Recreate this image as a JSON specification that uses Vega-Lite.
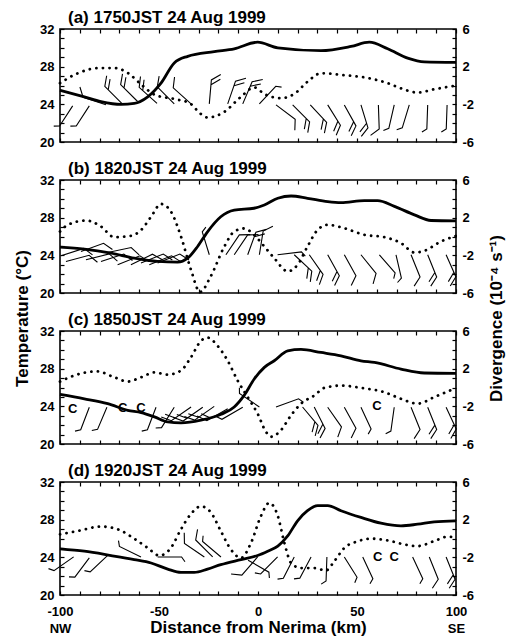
{
"$schema": "https://vega.github.io/schema/vega-lite/v6.json",
"autosize": {"type": "pad"},
"padding": {"left": 12, "top": 8, "right": 6, "bottom": 6},
"background": "white",
"datasets": {
"temp": [
{"p":"a","km":-100,"T":25.5},{"p":"a","km":-87.7,"T":24.8},{"p":"a","km":-79.3,"T":24.3},{"p":"a","km":-69.2,"T":24.0},{"p":"a","km":-62.5,"T":24.1},{"p":"a","km":-55.7,"T":24.8},{"p":"a","km":-49,"T":26.25},{"p":"a","km":-42.3,"T":28.4},{"p":"a","km":-35.5,"T":29.1},{"p":"a","km":-22.1,"T":29.6},{"p":"a","km":-12,"T":29.9},{"p":"a","km":-0.2,"T":30.6},{"p":"a","km":10,"T":30.0},{"p":"a","km":31.8,"T":29.7},{"p":"a","km":47,"T":30.15},{"p":"a","km":56.2,"T":30.6},{"p":"a","km":65.5,"T":29.9},{"p":"a","km":75.6,"T":28.9},{"p":"a","km":84,"T":28.5},{"p":"a","km":100,"T":28.45},
{"p":"b","km":-100,"T":24.87},{"p":"b","km":-87.7,"T":24.66},{"p":"b","km":-74.2,"T":24.23},{"p":"b","km":-62.5,"T":23.7},{"p":"b","km":-50.7,"T":23.35},{"p":"b","km":-40.6,"T":23.28},{"p":"b","km":-35.5,"T":23.7},{"p":"b","km":-30.5,"T":24.94},{"p":"b","km":-25.5,"T":26.5},{"p":"b","km":-18.8,"T":28.1},{"p":"b","km":-12,"T":28.8},{"p":"b","km":-2,"T":29.0},{"p":"b","km":3.2,"T":29.35},{"p":"b","km":10,"T":30.06},{"p":"b","km":16.7,"T":30.3},{"p":"b","km":25,"T":30.06},{"p":"b","km":35.2,"T":29.7},{"p":"b","km":41.9,"T":29.6},{"p":"b","km":53.7,"T":29.8},{"p":"b","km":60.4,"T":29.8},{"p":"b","km":68.9,"T":29.2},{"p":"b","km":79,"T":28.3},{"p":"b","km":87.4,"T":27.7},{"p":"b","km":100,"T":27.66},
{"p":"c","km":-100,"T":25.26},{"p":"c","km":-87.7,"T":24.8},{"p":"c","km":-75.9,"T":24.28},{"p":"c","km":-65.8,"T":23.58},{"p":"c","km":-59,"T":23.33},{"p":"c","km":-52.3,"T":22.88},{"p":"c","km":-45.6,"T":22.35},{"p":"c","km":-38.9,"T":22.25},{"p":"c","km":-28.8,"T":22.53},{"p":"c","km":-18.6,"T":23.16},{"p":"c","km":-12,"T":23.93},{"p":"c","km":-7,"T":25.16},{"p":"c","km":-1.9,"T":26.9},{"p":"c","km":3.2,"T":28.14},{"p":"c","km":8.2,"T":28.84},{"p":"c","km":15,"T":29.9},{"p":"c","km":21.7,"T":30.04},{"p":"c","km":31.8,"T":29.72},{"p":"c","km":41.9,"T":29.37},{"p":"c","km":52,"T":28.84},{"p":"c","km":58.8,"T":28.67},{"p":"c","km":72.2,"T":27.96},{"p":"c","km":84,"T":27.54},{"p":"c","km":100,"T":27.5},
{"p":"d","km":-100,"T":24.9},{"p":"d","km":-87.7,"T":24.65},{"p":"d","km":-74.2,"T":24.19},{"p":"d","km":-62.5,"T":23.76},{"p":"d","km":-54,"T":23.4},{"p":"d","km":-45.6,"T":22.75},{"p":"d","km":-38.9,"T":22.4},{"p":"d","km":-32.2,"T":22.4},{"p":"d","km":-25.5,"T":22.75},{"p":"d","km":-18.8,"T":23.22},{"p":"d","km":-8.6,"T":23.76},{"p":"d","km":-0.2,"T":24.19},{"p":"d","km":4.9,"T":24.65},{"p":"d","km":10,"T":25.19},{"p":"d","km":15,"T":26.27},{"p":"d","km":20,"T":27.88},{"p":"d","km":25,"T":28.95},{"p":"d","km":30.1,"T":29.5},{"p":"d","km":35.2,"T":29.5},{"p":"d","km":41.9,"T":28.95},{"p":"d","km":52,"T":28.24},{"p":"d","km":62.1,"T":27.63},{"p":"d","km":72.2,"T":27.34},{"p":"d","km":80.6,"T":27.52},{"p":"d","km":89,"T":27.77},{"p":"d","km":100,"T":27.88}
],
"div": [
{"p":"a","km":-100,"d":0.25},{"p":"a","km":-91,"d":1.3},{"p":"a","km":-80.3,"d":1.85},{"p":"a","km":-72,"d":1.85},{"p":"a","km":-65.5,"d":1.3},{"p":"a","km":-58.8,"d":0.07},{"p":"a","km":-52,"d":-1.0},{"p":"a","km":-40.6,"d":-1.5},{"p":"a","km":-34.3,"d":-1.9},{"p":"a","km":-29,"d":-3.0},{"p":"a","km":-25.5,"d":-3.4},{"p":"a","km":-17,"d":-2.8},{"p":"a","km":-8.6,"d":-1.2},{"p":"a","km":-1.9,"d":-0.2},{"p":"a","km":3.2,"d":-0.9},{"p":"a","km":11.6,"d":-1.35},{"p":"a","km":18.3,"d":-0.9},{"p":"a","km":25,"d":0.4},{"p":"a","km":31.8,"d":1.3},{"p":"a","km":43.6,"d":1.1},{"p":"a","km":55.4,"d":0.8},{"p":"a","km":65.5,"d":0.25},{"p":"a","km":72.2,"d":-0.3},{"p":"a","km":80.6,"d":-0.75},{"p":"a","km":89,"d":-0.4},{"p":"a","km":100,"d":0},
{"p":"b","km":-100,"d":0.53},{"p":"b","km":-96,"d":1.24},{"p":"b","km":-86.8,"d":1.7},{"p":"b","km":-79.3,"d":1.06},{"p":"b","km":-72.6,"d":-0.07},{"p":"b","km":-64.2,"d":0.07},{"p":"b","km":-59,"d":0.7},{"p":"b","km":-54,"d":2.1},{"p":"b","km":-49,"d":3.46},{"p":"b","km":-44,"d":2.65},{"p":"b","km":-38.9,"d":0},{"p":"b","km":-33.9,"d":-3.5},{"p":"b","km":-29.3,"d":-5.9},{"p":"b","km":-23.8,"d":-4.2},{"p":"b","km":-17,"d":-1.06},{"p":"b","km":-12,"d":0.53},{"p":"b","km":-7,"d":0.85},{"p":"b","km":-2,"d":0.18},{"p":"b","km":3.2,"d":-1.06},{"p":"b","km":8.2,"d":-2.3},{"p":"b","km":15,"d":-3.7},{"p":"b","km":20,"d":-3.0},{"p":"b","km":25,"d":-1.06},{"p":"b","km":30.1,"d":0.7},{"p":"b","km":35.2,"d":1.24},{"p":"b","km":43.6,"d":0.88},{"p":"b","km":53.7,"d":0.18},{"p":"b","km":63.8,"d":-0.07},{"p":"b","km":72.2,"d":-0.7},{"p":"b","km":79,"d":-1.7},{"p":"b","km":84,"d":-1.52},{"p":"b","km":92.4,"d":-0.53},{"p":"b","km":100,"d":0.07},
{"p":"c","km":-100,"d":0.63},{"p":"c","km":-93,"d":1.26},{"p":"c","km":-81.3,"d":1.72},{"p":"c","km":-72.6,"d":1.09},{"p":"c","km":-65.8,"d":0.63},{"p":"c","km":-59,"d":1.09},{"p":"c","km":-52.3,"d":1.6},{"p":"c","km":-45.6,"d":1.37},{"p":"c","km":-38.9,"d":1.8},{"p":"c","km":-33.9,"d":3.2},{"p":"c","km":-28.8,"d":4.95},{"p":"c","km":-25.5,"d":5.3},{"p":"c","km":-20.4,"d":4.42},{"p":"c","km":-15.3,"d":2.84},{"p":"c","km":-10.3,"d":0.74},{"p":"c","km":-5.2,"d":-1.02},{"p":"c","km":-0.2,"d":-2.77},{"p":"c","km":4,"d":-4.7},{"p":"c","km":6.6,"d":-5.23},{"p":"c","km":11.6,"d":-4.53},{"p":"c","km":16.7,"d":-2.95},{"p":"c","km":21.7,"d":-1.72},{"p":"c","km":28.5,"d":-0.84},{"p":"c","km":33.5,"d":-0.04},{"p":"c","km":41.9,"d":0.2},{"p":"c","km":52,"d":-0.04},{"p":"c","km":63.8,"d":-0.5},{"p":"c","km":72.2,"d":-1.2},{"p":"c","km":80.6,"d":-1.72},{"p":"c","km":89,"d":-1.02},{"p":"c","km":100,"d":-0.04},
{"p":"d","km":-100,"d":0.44},{"p":"d","km":-91,"d":0.8},{"p":"d","km":-79.3,"d":1.27},{"p":"d","km":-70.9,"d":0.98},{"p":"d","km":-62.5,"d":-0.02},{"p":"d","km":-55.7,"d":-1.0},{"p":"d","km":-49.8,"d":-1.81},{"p":"d","km":-44,"d":-1},{"p":"d","km":-38.9,"d":0.98},{"p":"d","km":-33.9,"d":2.6},{"p":"d","km":-28.8,"d":3.42},{"p":"d","km":-23.8,"d":2.77},{"p":"d","km":-18.8,"d":0.8},{"p":"d","km":-13.7,"d":-1.17},{"p":"d","km":-8.6,"d":-2.06},{"p":"d","km":-3.5,"d":-0.45},{"p":"d","km":1.5,"d":2.4},{"p":"d","km":5.7,"d":3.78},{"p":"d","km":10,"d":2.4},{"p":"d","km":13.3,"d":-0.45},{"p":"d","km":16.7,"d":-2.6},{"p":"d","km":21.7,"d":-3.14},{"p":"d","km":28.5,"d":-3.14},{"p":"d","km":34.3,"d":-3.4},{"p":"d","km":38.5,"d":-2.42},{"p":"d","km":43.6,"d":-1.0},{"p":"d","km":50.3,"d":-0.3},{"p":"d","km":57.1,"d":-0.02},{"p":"d","km":65.5,"d":-0.2},{"p":"d","km":73.9,"d":-0.63},{"p":"d","km":80.6,"d":-0.81},{"p":"d","km":89,"d":-0.27},{"p":"d","km":95.8,"d":0.2},{"p":"d","km":100,"d":0.08}
],
"barb": [
{"p":"a","km":-93.6,"T":23.84,"dir":213,"ft":"h"},{"p":"a","km":-85.2,"T":23.84,"dir":213,"ft":"h"},{"p":"a","km":-76.8,"T":23.95,"dir":288,"ft":"1"},{"p":"a","km":-68.8,"T":24.1,"dir":315,"ft":"2"},{"p":"a","km":-60.8,"T":24.3,"dir":315,"ft":"2"},{"p":"a","km":-51,"T":24.1,"dir":312,"ft":"2"},{"p":"a","km":-42.3,"T":24.05,"dir":315,"ft":"1"},{"p":"a","km":-33.8,"T":24.05,"dir":312,"ft":"1"},{"p":"a","km":-24.6,"T":24.05,"dir":5,"ft":"2"},{"p":"a","km":-15.3,"T":24.05,"dir":19,"ft":"2"},{"p":"a","km":-7.7,"T":24.05,"dir":23,"ft":"2"},{"p":"a","km":0.7,"T":24.05,"dir":43,"ft":"h"},{"p":"a","km":9.1,"T":23.94,"dir":127,"ft":"1"},{"p":"a","km":17.5,"T":23.94,"dir":135,"ft":"2"},{"p":"a","km":26.4,"T":23.94,"dir":137,"ft":"2"},{"p":"a","km":35.2,"T":23.94,"dir":148,"ft":"2"},{"p":"a","km":43.6,"T":23.94,"dir":151,"ft":"2"},{"p":"a","km":52,"T":23.94,"dir":163,"ft":"2"},{"p":"a","km":60.8,"T":23.94,"dir":178,"ft":"1"},{"p":"a","km":68.8,"T":23.94,"dir":193,"ft":"h"},{"p":"a","km":76.4,"T":23.94,"dir":197,"ft":"h"},{"p":"a","km":85.7,"T":23.94,"dir":182,"ft":"h"},{"p":"a","km":95.5,"T":23.94,"dir":182,"ft":"h"},
{"p":"b","km":-99.5,"T":23.95,"dir":72,"ft":"1"},{"p":"b","km":-97,"T":23.35,"dir":75,"ft":"1"},{"p":"b","km":-89.4,"T":24.41,"dir":70,"ft":"1"},{"p":"b","km":-86.9,"T":23.53,"dir":76,"ft":"1"},{"p":"b","km":-79.3,"T":23.35,"dir":72,"ft":"1"},{"p":"b","km":-75.9,"T":24.3,"dir":78,"ft":"1"},{"p":"b","km":-70.9,"T":23.0,"dir":68,"ft":"1"},{"p":"b","km":-64.2,"T":23.0,"dir":64,"ft":"1"},{"p":"b","km":-59.1,"T":23.18,"dir":68,"ft":"1"},{"p":"b","km":-54.9,"T":23.0,"dir":68,"ft":"1"},{"p":"b","km":-50.7,"T":23.18,"dir":68,"ft":"1"},
{"p":"b","km":-24.6,"T":24.06,"dir":343,"ft":"h"},{"p":"b","km":-16.2,"T":24.06,"dir":34,"ft":"1"},{"p":"b","km":-12,"T":24.06,"dir":34,"ft":"1"},{"p":"b","km":-5.2,"T":24.06,"dir":20,"ft":"2"},{"p":"b","km":0.7,"T":24.06,"dir":9,"ft":"1"},
{"p":"b","km":9.9,"T":24.06,"dir":83,"ft":"h"},{"p":"b","km":18.3,"T":24.06,"dir":133,"ft":"2"},{"p":"b","km":25.9,"T":24.06,"dir":145,"ft":"2"},{"p":"b","km":35.2,"T":24.06,"dir":151,"ft":"2"},{"p":"b","km":43.6,"T":24.06,"dir":151,"ft":"1"},{"p":"b","km":52,"T":24.06,"dir":141,"ft":"1"},{"p":"b","km":61.3,"T":24.06,"dir":139,"ft":"h"},{"p":"b","km":69.7,"T":24.06,"dir":167,"ft":"h"},{"p":"b","km":77.3,"T":24.06,"dir":158,"ft":"1"},{"p":"b","km":85.7,"T":24.06,"dir":158,"ft":"2"},{"p":"b","km":95,"T":24.06,"dir":156,"ft":"2"},
{"p":"c","km":-85.2,"T":23.9,"dir":201,"ft":"h"},{"p":"c","km":-76.3,"T":23.9,"dir":203,"ft":"h"},{"p":"c","km":-51.5,"T":23.9,"dir":201,"ft":"h"},{"p":"c","km":-42.3,"T":23.9,"dir":212,"ft":"h"},{"p":"c","km":-33.8,"T":23.93,"dir":235,"ft":"2"},{"p":"c","km":-27.9,"T":23.9,"dir":235,"ft":"2"},{"p":"c","km":-22.1,"T":24.0,"dir":235,"ft":"2"},{"p":"c","km":-15.3,"T":23.75,"dir":240,"ft":"2"},{"p":"c","km":-7.7,"T":23.9,"dir":240,"ft":"h"},{"p":"c","km":0.7,"T":23.93,"dir":304,"ft":"h"},{"p":"c","km":9.1,"T":23.93,"dir":70,"ft":"h"},{"p":"c","km":22.5,"T":23.93,"dir":140,"ft":"2"},{"p":"c","km":28.4,"T":23.93,"dir":153,"ft":"2"},{"p":"c","km":35.2,"T":23.9,"dir":145,"ft":"1"},{"p":"c","km":43.6,"T":23.9,"dir":151,"ft":"1"},{"p":"c","km":52,"T":23.9,"dir":155,"ft":"h"},{"p":"c","km":68.8,"T":23.9,"dir":188,"ft":"h"},{"p":"c","km":77.3,"T":23.9,"dir":158,"ft":"1"},{"p":"c","km":85.7,"T":23.9,"dir":158,"ft":"2"},{"p":"c","km":95,"T":23.9,"dir":155,"ft":"2"},
{"p":"d","km":-93.1,"T":24.05,"dir":235,"ft":"h"},{"p":"d","km":-85.2,"T":23.94,"dir":217,"ft":"h"},{"p":"d","km":-75.9,"T":24.2,"dir":227,"ft":"h"},{"p":"d","km":-59.1,"T":24.04,"dir":296,"ft":"h"},{"p":"d","km":-50.7,"T":24.04,"dir":90,"ft":"h"},{"p":"d","km":-27.1,"T":24.04,"dir":304,"ft":"1"},{"p":"d","km":-22.9,"T":24.04,"dir":315,"ft":"1"},{"p":"d","km":-18.7,"T":24.04,"dir":310,"ft":"h"},{"p":"d","km":-5,"T":23.7,"dir":120,"ft":"h"},{"p":"d","km":-0.2,"T":24.04,"dir":221,"ft":"1"},{"p":"d","km":9.9,"T":24.04,"dir":225,"ft":"h"},{"p":"d","km":18.3,"T":24.04,"dir":207,"ft":"h"},{"p":"d","km":26.8,"T":24.04,"dir":208,"ft":"h"},{"p":"d","km":34.8,"T":24.04,"dir":182,"ft":"h"},{"p":"d","km":43.6,"T":24.04,"dir":148,"ft":"h"},{"p":"d","km":52.9,"T":24.04,"dir":155,"ft":"h"},{"p":"d","km":78.1,"T":24.04,"dir":155,"ft":"h"},{"p":"d","km":86.5,"T":24.04,"dir":158,"ft":"1"},{"p":"d","km":95,"T":24.04,"dir":158,"ft":"2"}
],
"calm": [
{"p":"c","km":-93.6,"T":23.75},{"p":"c","km":-68.3,"T":23.86},{"p":"c","km":-59.1,"T":23.86},{"p":"c","km":60.1,"T":24.0},
{"p":"d","km":60.4,"T":24.04},{"p":"d","km":68.8,"T":24.04}
]
},
"vconcat": [
{"title": "(a) 1750JST 24 Aug 1999", "width": 396, "height": 113,
"layer": [
{"mark": {"type":"rule","stroke":"#333","strokeWidth":0.8,"strokeDash":[6,3]}, "encoding": {"y": {"datum": 26, "type":"quantitative","scale":{"domain":[20,32],"nice":false},"axis":null}}},
{"mark": {"type":"rule","stroke":"#333","strokeWidth":0.8,"strokeDash":[8,3,2,3]}, "encoding": {"x": {"datum": 0, "type":"quantitative","scale":{"domain":[-100,100],"nice":false},"axis":null}}},
{"data": {"name":"temp"}, "transform":[{"filter":{"field":"p","equal":"a"}}], "mark": {"type":"line","stroke":"black","strokeWidth":2.8,"interpolate":"monotone"},
 "encoding": {"x": {"field":"km","type":"quantitative","scale":{"domain":[-100,100],"nice":false},"axis":{"orient":"bottom","values":[-100,-90,-80,-70,-60,-50,-40,-30,-20,-10,0,10,20,30,40,50,60,70,80,90,100],"labels":false,"labelPadding":4,"title":null}},
  "y": {"field":"T","type":"quantitative","scale":{"domain":[20,32],"nice":false},"axis":{"orient":"left","values":[20,21,22,23,24,25,26,27,28,29,30,31,32],"labelExpr":"datum.value % 4 == 0 ? '' + datum.value : ''","title":null}}}},
{"data": {"name":"div"}, "transform":[{"filter":{"field":"p","equal":"a"}}], "mark": {"type":"line","stroke":"black","strokeWidth":2.8,"strokeDash":[0.1,6.5],"strokeCap":"round","interpolate":"monotone"},
 "encoding": {"x": {"field":"km","type":"quantitative","scale":{"domain":[-100,100],"nice":false},"axis":{"orient":"top","values":[-100,-90,-80,-70,-60,-50,-40,-30,-20,-10,0,10,20,30,40,50,60,70,80,90,100],"labels":false,"labelPadding":4,"title":null}},
  "y": {"field":"d","type":"quantitative","scale":{"domain":[-6,6],"nice":false},"axis":{"orient":"right","values":[-6,-5,-4,-3,-2,-1,0,1,2,3,4,5,6],"labelExpr":"(datum.value + 6) % 4 == 0 ? '' + datum.value : ''","title":null}}}},
{"data": {"name":"barb"}, "transform":[{"filter":{"field":"p","equal":"a"}}], "mark": {"type":"point","filled":false,"stroke":"black","strokeWidth":1.1,"opacity":1,"size":2304},
 "encoding": {"x": {"field":"km","type":"quantitative","scale":{"domain":[-100,100],"nice":false},"axis":null},
  "y": {"field":"T","type":"quantitative","scale":{"domain":[20,32],"nice":false},"axis":null},
  "shape": {"field":"ft","type":"nominal","scale":{"domain":["1","2","h"],"range":["M0,0L0,-1L0.37,-1.26","M0,0L0,-1L0.37,-1.26M0,-0.8L0.37,-1.06","M0,0L0,-1L0.2,-1.14"]},"legend":null},
  "angle": {"field":"dir","type":"quantitative","scale":{"domain":[0,360],"range":[0,360]},"legend":null}}}
],
"resolve": {"scale": {"y":"independent"}, "axis": {"x":"independent","y":"independent"}}
},
{"title": "(b) 1820JST 24 Aug 1999", "width": 396, "height": 113,
"layer": [
{"mark": {"type":"rule","stroke":"#333","strokeWidth":0.8,"strokeDash":[6,3]}, "encoding": {"y": {"datum": 26, "type":"quantitative","scale":{"domain":[20,32],"nice":false},"axis":null}}},
{"mark": {"type":"rule","stroke":"#333","strokeWidth":0.8,"strokeDash":[8,3,2,3]}, "encoding": {"x": {"datum": 0, "type":"quantitative","scale":{"domain":[-100,100],"nice":false},"axis":null}}},
{"data": {"name":"temp"}, "transform":[{"filter":{"field":"p","equal":"b"}}], "mark": {"type":"line","stroke":"black","strokeWidth":2.8,"interpolate":"monotone"},
 "encoding": {"x": {"field":"km","type":"quantitative","scale":{"domain":[-100,100],"nice":false},"axis":{"orient":"bottom","values":[-100,-90,-80,-70,-60,-50,-40,-30,-20,-10,0,10,20,30,40,50,60,70,80,90,100],"labels":false,"labelPadding":4,"title":null}},
  "y": {"field":"T","type":"quantitative","scale":{"domain":[20,32],"nice":false},"axis":{"orient":"left","values":[20,21,22,23,24,25,26,27,28,29,30,31,32],"labelExpr":"datum.value % 4 == 0 ? '' + datum.value : ''","title":"Temperature (°C)","titleY":138,"titlePadding":8}}}},
{"data": {"name":"div"}, "transform":[{"filter":{"field":"p","equal":"b"}}], "mark": {"type":"line","stroke":"black","strokeWidth":2.8,"strokeDash":[0.1,6.5],"strokeCap":"round","interpolate":"monotone"},
 "encoding": {"x": {"field":"km","type":"quantitative","scale":{"domain":[-100,100],"nice":false},"axis":{"orient":"top","values":[-100,-90,-80,-70,-60,-50,-40,-30,-20,-10,0,10,20,30,40,50,60,70,80,90,100],"labels":false,"labelPadding":4,"title":null}},
  "y": {"field":"d","type":"quantitative","scale":{"domain":[-6,6],"nice":false},"axis":{"orient":"right","values":[-6,-5,-4,-3,-2,-1,0,1,2,3,4,5,6],"labelExpr":"(datum.value + 6) % 4 == 0 ? '' + datum.value : ''","title":"Divergence (10⁻⁴ s⁻¹)","titleAngle":270,"titleBaseline":"top","titleY":138,"titlePadding":15}}}},
{"data": {"name":"barb"}, "transform":[{"filter":{"field":"p","equal":"b"}}], "mark": {"type":"point","filled":false,"stroke":"black","strokeWidth":1.1,"opacity":1,"size":2304},
 "encoding": {"x": {"field":"km","type":"quantitative","scale":{"domain":[-100,100],"nice":false},"axis":null},
  "y": {"field":"T","type":"quantitative","scale":{"domain":[20,32],"nice":false},"axis":null},
  "shape": {"field":"ft","type":"nominal","scale":{"domain":["1","2","h"],"range":["M0,0L0,-1L0.37,-1.26","M0,0L0,-1L0.37,-1.26M0,-0.8L0.37,-1.06","M0,0L0,-1L0.2,-1.14"]},"legend":null},
  "angle": {"field":"dir","type":"quantitative","scale":{"domain":[0,360],"range":[0,360]},"legend":null}}}
],
"resolve": {"scale": {"y":"independent"}, "axis": {"x":"independent","y":"independent"}}
},
{"title": "(c) 1850JST 24 Aug 1999", "width": 396, "height": 113,
"layer": [
{"mark": {"type":"rule","stroke":"#333","strokeWidth":0.8,"strokeDash":[6,3]}, "encoding": {"y": {"datum": 26, "type":"quantitative","scale":{"domain":[20,32],"nice":false},"axis":null}}},
{"mark": {"type":"rule","stroke":"#333","strokeWidth":0.8,"strokeDash":[8,3,2,3]}, "encoding": {"x": {"datum": 0, "type":"quantitative","scale":{"domain":[-100,100],"nice":false},"axis":null}}},
{"data": {"name":"temp"}, "transform":[{"filter":{"field":"p","equal":"c"}}], "mark": {"type":"line","stroke":"black","strokeWidth":2.8,"interpolate":"monotone"},
 "encoding": {"x": {"field":"km","type":"quantitative","scale":{"domain":[-100,100],"nice":false},"axis":{"orient":"bottom","values":[-100,-90,-80,-70,-60,-50,-40,-30,-20,-10,0,10,20,30,40,50,60,70,80,90,100],"labels":false,"labelPadding":4,"title":null}},
  "y": {"field":"T","type":"quantitative","scale":{"domain":[20,32],"nice":false},"axis":{"orient":"left","values":[20,21,22,23,24,25,26,27,28,29,30,31,32],"labelExpr":"datum.value % 4 == 0 ? '' + datum.value : ''","title":null}}}},
{"data": {"name":"div"}, "transform":[{"filter":{"field":"p","equal":"c"}}], "mark": {"type":"line","stroke":"black","strokeWidth":2.8,"strokeDash":[0.1,6.5],"strokeCap":"round","interpolate":"monotone"},
 "encoding": {"x": {"field":"km","type":"quantitative","scale":{"domain":[-100,100],"nice":false},"axis":{"orient":"top","values":[-100,-90,-80,-70,-60,-50,-40,-30,-20,-10,0,10,20,30,40,50,60,70,80,90,100],"labels":false,"labelPadding":4,"title":null}},
  "y": {"field":"d","type":"quantitative","scale":{"domain":[-6,6],"nice":false},"axis":{"orient":"right","values":[-6,-5,-4,-3,-2,-1,0,1,2,3,4,5,6],"labelExpr":"(datum.value + 6) % 4 == 0 ? '' + datum.value : ''","title":null}}}},
{"data": {"name":"barb"}, "transform":[{"filter":{"field":"p","equal":"c"}}], "mark": {"type":"point","filled":false,"stroke":"black","strokeWidth":1.1,"opacity":1,"size":2304},
 "encoding": {"x": {"field":"km","type":"quantitative","scale":{"domain":[-100,100],"nice":false},"axis":null},
  "y": {"field":"T","type":"quantitative","scale":{"domain":[20,32],"nice":false},"axis":null},
  "shape": {"field":"ft","type":"nominal","scale":{"domain":["1","2","h"],"range":["M0,0L0,-1L0.37,-1.26","M0,0L0,-1L0.37,-1.26M0,-0.8L0.37,-1.06","M0,0L0,-1L0.2,-1.14"]},"legend":null},
  "angle": {"field":"dir","type":"quantitative","scale":{"domain":[0,360],"range":[0,360]},"legend":null}}},
{"data": {"name":"calm"}, "transform":[{"filter":{"field":"p","equal":"c"}}], "mark": {"type":"text","text":"C","font":"Liberation Sans","fontWeight":"bold","fontSize":13,"color":"black"},
 "encoding": {"x": {"field":"km","type":"quantitative","scale":{"domain":[-100,100],"nice":false},"axis":null},
  "y": {"field":"T","type":"quantitative","scale":{"domain":[20,32],"nice":false},"axis":null}}}
],
"resolve": {"scale": {"y":"independent"}, "axis": {"x":"independent","y":"independent"}}
},
{"title": "(d) 1920JST 24 Aug 1999", "width": 396, "height": 113,
"layer": [
{"mark": {"type":"rule","stroke":"#333","strokeWidth":0.8,"strokeDash":[6,3]}, "encoding": {"y": {"datum": 26, "type":"quantitative","scale":{"domain":[20,32],"nice":false},"axis":null}}},
{"mark": {"type":"rule","stroke":"#333","strokeWidth":0.8,"strokeDash":[8,3,2,3]}, "encoding": {"x": {"datum": 0, "type":"quantitative","scale":{"domain":[-100,100],"nice":false},"axis":null}}},
{"data": {"name":"temp"}, "transform":[{"filter":{"field":"p","equal":"d"}}], "mark": {"type":"line","stroke":"black","strokeWidth":2.8,"interpolate":"monotone"},
 "encoding": {"x": {"field":"km","type":"quantitative","scale":{"domain":[-100,100],"nice":false},"axis":{"orient":"bottom","values":[-100,-90,-80,-70,-60,-50,-40,-30,-20,-10,0,10,20,30,40,50,60,70,80,90,100],"labelExpr":"datum.value == -100 ? ['-100', 'NW'] : datum.value == 100 ? ['100', 'SE'] : (datum.value % 50 == 0 ? '' + datum.value : '')","labelLineHeight":17,"labelPadding":14,"title":"Distance from Nerima (km)","titlePadding":-16}},
  "y": {"field":"T","type":"quantitative","scale":{"domain":[20,32],"nice":false},"axis":{"orient":"left","values":[20,21,22,23,24,25,26,27,28,29,30,31,32],"labelExpr":"datum.value % 4 == 0 ? '' + datum.value : ''","title":null}}}},
{"data": {"name":"div"}, "transform":[{"filter":{"field":"p","equal":"d"}}], "mark": {"type":"line","stroke":"black","strokeWidth":2.8,"strokeDash":[0.1,6.5],"strokeCap":"round","interpolate":"monotone"},
 "encoding": {"x": {"field":"km","type":"quantitative","scale":{"domain":[-100,100],"nice":false},"axis":{"orient":"top","values":[-100,-90,-80,-70,-60,-50,-40,-30,-20,-10,0,10,20,30,40,50,60,70,80,90,100],"labels":false,"labelPadding":4,"title":null}},
  "y": {"field":"d","type":"quantitative","scale":{"domain":[-6,6],"nice":false},"axis":{"orient":"right","values":[-6,-5,-4,-3,-2,-1,0,1,2,3,4,5,6],"labelExpr":"(datum.value + 6) % 4 == 0 ? '' + datum.value : ''","title":null}}}},
{"data": {"name":"barb"}, "transform":[{"filter":{"field":"p","equal":"d"}}], "mark": {"type":"point","filled":false,"stroke":"black","strokeWidth":1.1,"opacity":1,"size":2304},
 "encoding": {"x": {"field":"km","type":"quantitative","scale":{"domain":[-100,100],"nice":false},"axis":null},
  "y": {"field":"T","type":"quantitative","scale":{"domain":[20,32],"nice":false},"axis":null},
  "shape": {"field":"ft","type":"nominal","scale":{"domain":["1","2","h"],"range":["M0,0L0,-1L0.37,-1.26","M0,0L0,-1L0.37,-1.26M0,-0.8L0.37,-1.06","M0,0L0,-1L0.2,-1.14"]},"legend":null},
  "angle": {"field":"dir","type":"quantitative","scale":{"domain":[0,360],"range":[0,360]},"legend":null}}},
{"data": {"name":"calm"}, "transform":[{"filter":{"field":"p","equal":"d"}}], "mark": {"type":"text","text":"C","font":"Liberation Sans","fontWeight":"bold","fontSize":13,"color":"black"},
 "encoding": {"x": {"field":"km","type":"quantitative","scale":{"domain":[-100,100],"nice":false},"axis":null},
  "y": {"field":"T","type":"quantitative","scale":{"domain":[20,32],"nice":false},"axis":null}}}
],
"resolve": {"scale": {"y":"independent"}, "axis": {"x":"independent","y":"independent"}}
}
],
"spacing": 38,
"bounds": "flush",
"config": {
 "font": "Liberation Sans",
 "view": {"stroke": "black", "strokeWidth": 1.6},
 "axis": {"labelFont":"Liberation Sans","labelFontWeight":"bold","labelFontSize":13,"labelColor":"black","labelFlush":false,"labelOverlap":false,"labelPadding":10,"tickColor":"black","tickWidth":1.2,"tickSize":-4,"domain":false,"grid":false,"titleFont":"Liberation Sans","titleFontWeight":"bold","titleFontSize":17,"titleColor":"black"},
 "title": {"font":"Liberation Sans","fontWeight":"bold","fontSize":17,"anchor":"start","color":"black","offset":-4,"frame":"group","dx":8}
}
}
